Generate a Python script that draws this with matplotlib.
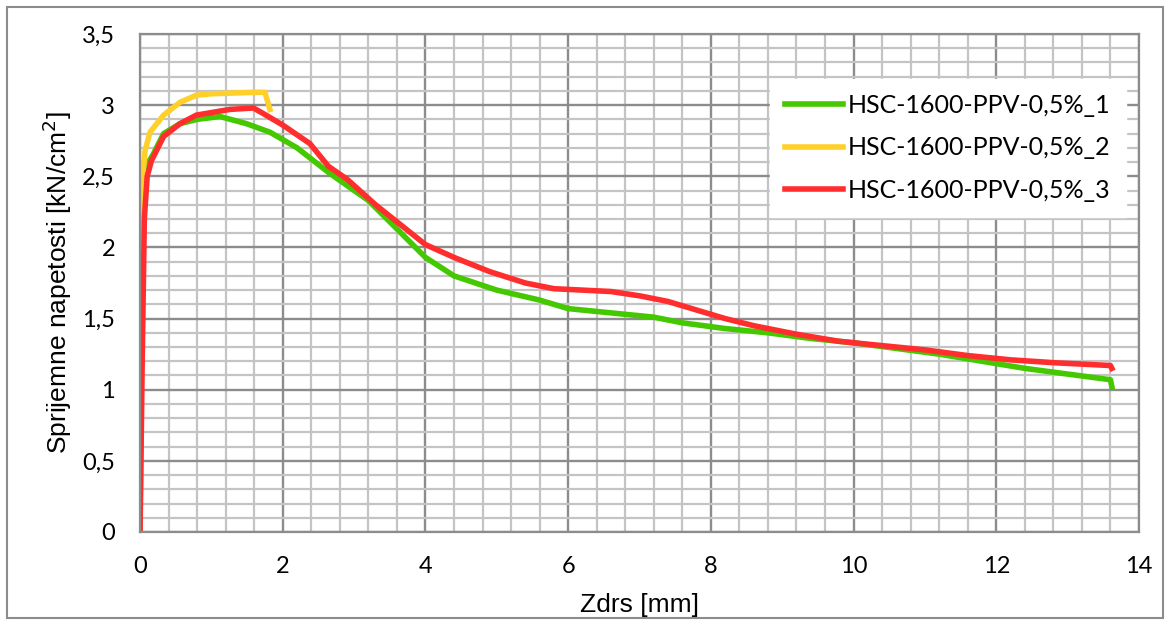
import matplotlib
matplotlib.use('Agg')
import matplotlib.pyplot as plt
from matplotlib.patches import Rectangle
from matplotlib.ticker import MultipleLocator, FuncFormatter

# series
x1 = [0.0, 0.02, 0.04, 0.07, 0.12, 0.19, 0.33, 0.56, 0.8, 1.12, 1.49, 1.82, 2.2, 2.66,
      3.2, 3.6, 4.0, 4.4, 5.0, 5.6, 6.0, 6.6, 7.2, 7.6, 8.2, 8.8, 9.4, 10.0, 10.6,
      11.2, 11.8, 12.4, 13.0, 13.6, 13.62]
y1 = [0.0, 1.5, 2.3, 2.5, 2.6, 2.66, 2.8, 2.87, 2.9, 2.92, 2.87, 2.81, 2.7, 2.52,
      2.33, 2.13, 1.93, 1.8, 1.7, 1.63, 1.57, 1.54, 1.51, 1.47, 1.43, 1.4, 1.36, 1.33, 1.29,
      1.25, 1.2, 1.15, 1.11, 1.07, 1.02]

x2 = [0.0, 0.02, 0.04, 0.07, 0.14, 0.33, 0.56, 0.79, 1.0, 1.3, 1.6, 1.75, 1.82]
y2 = [0.0, 1.8, 2.5, 2.68, 2.81, 2.93, 3.02, 3.07, 3.08, 3.085, 3.09, 3.09, 2.97]

x3 = [0.0, 0.03, 0.06, 0.1, 0.16, 0.33, 0.56, 0.79, 1.26, 1.59, 1.73, 2.0, 2.38, 2.64,
      2.9, 3.3, 3.7, 4.0, 4.4, 4.9, 5.4, 5.8, 6.2, 6.6, 7.0, 7.4, 7.8, 8.2, 8.6, 9.2,
      9.8, 10.4, 11.0, 11.6, 12.2, 12.8, 13.6, 13.62]
y3 = [0.0, 1.2, 2.2, 2.5, 2.61, 2.78, 2.87, 2.93, 2.97, 2.98, 2.94, 2.86, 2.73, 2.57,
      2.48, 2.3, 2.14, 2.02, 1.93, 1.83, 1.75, 1.71, 1.70, 1.69, 1.66, 1.62, 1.56, 1.5, 1.45, 1.39,
      1.34, 1.31, 1.28, 1.24, 1.21, 1.19, 1.17, 1.15]

labels = ['HSC-1600-PPV-0,5%_1', 'HSC-1600-PPV-0,5%_2', 'HSC-1600-PPV-0,5%_3']
colors = ['#44c800', '#ffd02a', '#ff2d2d']

fig = plt.figure(figsize=(11.7, 6.25), dpi=100)
ax = fig.add_axes([0.1197, 0.1488, 0.8538, 0.7968])

for xs, ys, lab, c in zip([x1, x2, x3], [y1, y2, y3], labels, colors):
    ax.plot(xs, ys, color=c, lw=4, label=lab, solid_joinstyle='round')

ax.set_xlim(0, 14)
ax.set_ylim(0, 3.5)
ax.xaxis.set_major_locator(MultipleLocator(2))
ax.xaxis.set_minor_locator(MultipleLocator(0.4))
ax.yaxis.set_major_locator(MultipleLocator(0.5))
ax.yaxis.set_minor_locator(MultipleLocator(0.1))
ax.yaxis.set_major_formatter(FuncFormatter(lambda v, p: ('%g' % v).replace('.', ',')))
ax.grid(which='major', color='#8c8c8c', lw=1.7)
ax.grid(which='minor', color='#c4c4c4', lw=1.6)
ax.set_axisbelow(True)
ax.tick_params(which='both', length=0, labelsize=17)
ax.tick_params(axis='x', pad=17)
ax.tick_params(axis='y', pad=18)
for lab in ax.get_xticklabels() + ax.get_yticklabels():
    lab.set_family('Lato')
for s in ax.spines.values():
    s.set_color('#8c8c8c')
    s.set_linewidth(1.6)

ax.set_xlabel('Zdrs [mm]', fontsize=19, family='Liberation Sans', labelpad=12)
ax.set_ylabel('Sprijemne napetosti [kN/cm$^2$]', fontsize=19, family='Liberation Sans', labelpad=6)

leg = ax.legend(loc='upper left', bbox_to_anchor=(0.631, 0.91), borderaxespad=0,
                frameon=True, fancybox=False, framealpha=1, edgecolor='white',
                handlelength=2.3, handletextpad=0.2, labelspacing=0.78, borderpad=0.6,
                prop={'family': 'Lato', 'size': 18})

fig.patches.append(Rectangle((0.006, 0.011), 0.988, 0.978, transform=fig.transFigure,
                             fill=False, edgecolor='#8c8c8c', lw=1.5))

fig.savefig('out.png', dpi=100)
